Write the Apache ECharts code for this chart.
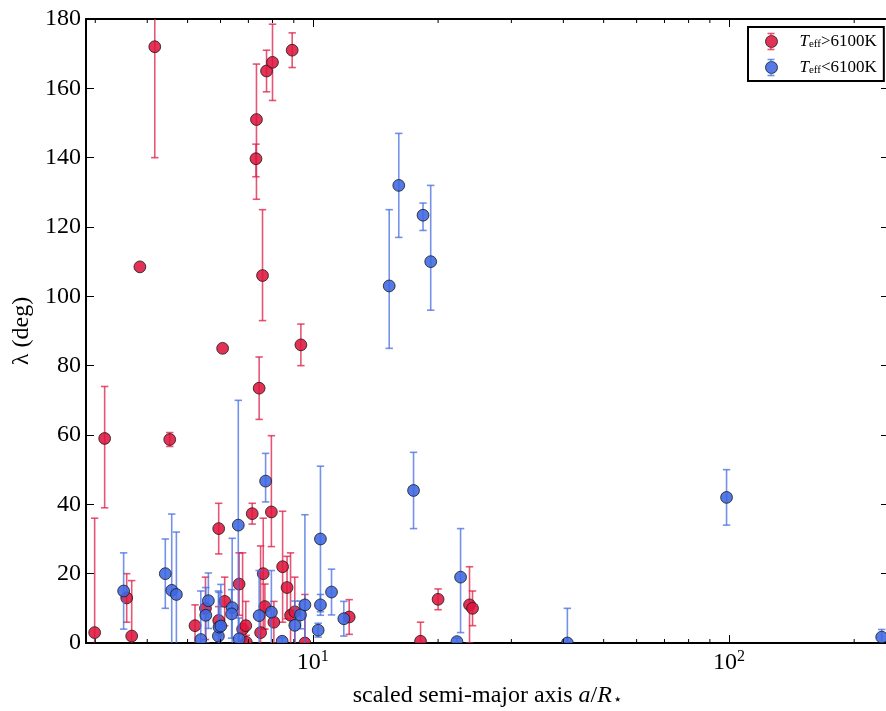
<!DOCTYPE html>
<html><head><meta charset="utf-8">
<script src="https://cdn.jsdelivr.net/npm/echarts@6/dist/echarts.min.js"></script>
<style>html,body{margin:0;padding:0;background:#fff}#c{width:886px;height:711px}</style>
</head><body><div id="c"></div>
<script>
// Teff > 6100K (hot stars)
const hotX = [4.17,7.32,7.30,7.74,8.00,8.92,7.57,6.07,9.36,3.84,3.16,4.53,7.43,2.99,3.57,3.67,5.21,5.52,5.94,5.94,6.14,6.65,6.78,6.90,6.92,7.15,7.49,7.60,7.67,7.95,8.06,8.46,8.67,8.84,9.05,9.57,12.23,20.0,18.15,23.8,24.2];
const hotY = [172,151,139.7,165,167.5,171,106,85,86,108.5,59,58.7,73.5,3,13,2,5,10,33,6.5,12,17,4,5,0.2,37.3,3,20,10.5,37.8,6,22,16,8,9,0,7.5,12.6,0.5,11,10];
const hotErrMinus = [32,23,5.2,6,11,5,13,0,6,0,20,2,9,33,7,16,6,9,7.3,4,7,9,22,7,2,3,25,16,6.5,10,6,16,9,18,10,14,5,3,5.5,11,5];
const hotErrPlus  = [32,16,4.2,6,11,5,19,0,6,0,15,2,9,33,7,16,6,9,7.3,4,7,9,22,7,2,3,25,16,6.5,22,6,16,9,18,10,14,5,3,5.5,11,5];

// Teff < 6100K (cool stars)
const coolX = [3.51,4.42,4.58,4.70,5.38,5.53,5.61,5.93,5.95,6.01,6.40,6.38,6.62,6.65,7.70,7.43,7.95,8.44,9.05,9.34,9.57,10.3,10.43,10.43,11.09,11.87,15.26,16.09,18.4,19.2,17.46,22.65,22.2,40.9,98.7,232.9];
const coolY = [15,20,15.2,14,1,8,12.2,2,4.6,4.9,10.2,8.4,34,1.2,46.7,7.9,8.9,0.5,5.1,8.1,11,3.7,30,11,14.7,7,103,132,123.4,110,44,19,0.4,0,42,1.7];
const coolErrMinus = [11,10,22,18,14,8,8,13,10,12,20,7,36,6,6,13,12,1,7,4,26,2,21,3,6.6,5,18,15,4.4,14,11,16,1,10,8,2.2];
const coolErrPlus  = [11,10,22,18,14,8,8,13,10,12,20,7,36,6,8,13,12,1,7,4,26,2,21,3,6.6,5,22,15,3.5,22,11,14,1,10,8,2.2];

const minorTickValues = [3,4,5,6,7,8,9,20,30,40,50,60,70,80,90,200];
const xMin = 2.85, xMax = 242.5;
const yMin = 0, yMax = 180, yStep = 20;

const HOT_FILL = 'rgba(222,22,62,0.88)';
const HOT_BAR = 'rgba(222,30,70,0.75)';
const COOL_FILL = 'rgba(62,102,225,0.88)';
const COOL_BAR = 'rgba(70,110,225,0.75)';
const EDGE = 'rgba(25,25,25,0.8)';
const FONT = "'Liberation Serif','Times New Roman',serif";

function rows(xs, ys, lo, hi) { return xs.map((x, i) => [x, ys[i], lo[i], hi[i]]); }
const hotData = rows(hotX, hotY, hotErrMinus, hotErrPlus);
const coolData = rows(coolX, coolY, coolErrMinus, coolErrPlus);

function errRender(color) {
  return function (params, api) {
    const x = api.value(0), y = api.value(1), lo = api.value(2), hi = api.value(3);
    if (!lo && !hi) return null;
    const t = api.coord([x, y + hi]), b = api.coord([x, y - lo]);
    const cw = 3.7, st = { stroke: color, lineWidth: 1.6 };
    return { type: 'group', children: [
      { type: 'line', shape: { x1: t[0], y1: t[1], x2: b[0], y2: b[1] }, style: st },
      { type: 'line', shape: { x1: t[0] - cw, y1: t[1], x2: t[0] + cw, y2: t[1] }, style: st },
      { type: 'line', shape: { x1: b[0] - cw, y1: b[1], x2: b[0] + cw, y2: b[1] }, style: st }
    ]};
  };
}
function dotRender(fill) {
  return function (params, api) {
    const p = api.coord([api.value(0), api.value(1)]);
    return { type: 'circle', shape: { cx: p[0], cy: p[1], r: 5.9 }, style: { fill: fill, stroke: EDGE, lineWidth: 1 } };
  };
}
function minorRender(params, api) {
  const v = api.value(0);
  const b = api.coord([v, yMin]), t = api.coord([v, yMax]);
  const st = { stroke: '#000', lineWidth: 1 };
  return { type: 'group', children: [
    { type: 'line', shape: { x1: b[0], y1: b[1], x2: b[0], y2: b[1] - 4 }, style: st },
    { type: 'line', shape: { x1: t[0], y1: t[1], x2: t[0], y2: t[1] + 4 }, style: st }
  ]};
}
// small error-bar glyph behind each legend marker
function legendBar(cx, cy, color) {
  const st = { stroke: color, lineWidth: 1.6 };
  return [
    { type: 'line', z: 100, shape: { x1: cx, y1: cy - 8, x2: cx, y2: cy - 5.5 }, style: st },
    { type: 'line', z: 100, shape: { x1: cx, y1: cy + 5.5, x2: cx, y2: cy + 8 }, style: st },
    { type: 'line', z: 100, shape: { x1: cx - 3.5, y1: cy - 8, x2: cx + 3.5, y2: cy - 8 }, style: st },
    { type: 'line', z: 100, shape: { x1: cx - 3.5, y1: cy + 8, x2: cx + 3.5, y2: cy + 8 }, style: st }
  ];
}

const isPow10 = v => Math.abs(Math.log10(v) - Math.round(Math.log10(v))) < 1e-6;
const axisBase = {
  axisLine: { show: true, onZero: false, lineStyle: { color: '#000', width: 2 } },
  axisTick: { show: true, inside: true, length: 8, lineStyle: { color: '#000', width: 1 } },
  splitLine: { show: false }
};

const chart = echarts.init(document.getElementById('c'));
chart.setOption({
  animation: false,
  backgroundColor: '#fff',
  grid: { left: 86, right: -3, top: 19, bottom: 68, containLabel: false, outerBoundsMode: 'none' },
  xAxis: [
    Object.assign({}, axisBase, {
      type: 'log', logBase: 10, min: xMin, max: xMax, position: 'bottom',
      axisLabel: {
        margin: 6, fontFamily: FONT, color: '#000', showMinLabel: false, showMaxLabel: false,
        formatter: v => isPow10(v) ? '{n|10}{s|' + Math.round(Math.log10(v)) + '}' : '',
        rich: {
          n: { fontSize: 24, fontFamily: FONT, color: '#000', lineHeight: 26, verticalAlign: 'bottom' },
          s: { fontSize: 16, fontFamily: FONT, color: '#000', lineHeight: 26, verticalAlign: 'top' }
        }
      },
      name: '{n|scaled semi-major axis }{i|a}{n|/}{i|R}{st|⋆}',
      nameLocation: 'middle', nameGap: 35,
      nameTextStyle: {
        rich: {
          n: { fontSize: 24, fontFamily: FONT, color: '#000', lineHeight: 30, verticalAlign: 'bottom' },
          i: { fontSize: 24, fontFamily: FONT, fontStyle: 'italic', color: '#000', lineHeight: 30, verticalAlign: 'bottom' },
          st: { fontSize: 15, fontFamily: "'DejaVu Sans',sans-serif", color: '#000', lineHeight: 24, verticalAlign: 'bottom', padding: [0, 0, 0, 1] }
        }
      }
    }),
    Object.assign({}, axisBase, {
      type: 'log', logBase: 10, min: xMin, max: xMax, position: 'top',
      axisLabel: { show: false }
    })
  ],
  yAxis: [
    Object.assign({}, axisBase, {
      type: 'value', min: yMin, max: yMax, interval: yStep, position: 'left',
      axisLabel: { margin: 5, fontSize: 24, fontFamily: FONT, color: '#000' },
      name: 'λ (deg)', nameLocation: 'middle', nameGap: 52,
      nameTextStyle: { fontSize: 24, fontFamily: FONT, color: '#000' }
    }),
    Object.assign({}, axisBase, {
      type: 'value', min: yMin, max: yMax, interval: yStep, position: 'right',
      axisLabel: { show: false }
    })
  ],
  legend: {
    orient: 'vertical', left: 748, top: 27, selectedMode: false,
    padding: [6, 7, 5, 17], itemGap: 9, itemWidth: 12, itemHeight: 12,
    borderColor: '#000', borderWidth: 2, backgroundColor: '#fff',
    data: [
      { name: 'hot', icon: 'circle', itemStyle: { color: HOT_FILL, borderColor: EDGE, borderWidth: 1 } },
      { name: 'cool', icon: 'circle', itemStyle: { color: COOL_FILL, borderColor: EDGE, borderWidth: 1 } }
    ],
    formatter: n => n === 'hot' ? '{i|T}{s|eff}{n|>6100K}' : '{i|T}{s|eff}{n|<6100K}',
    textStyle: {
      rich: {
        i: { fontSize: 17, fontFamily: FONT, fontStyle: 'italic', color: '#000', lineHeight: 17, verticalAlign: 'bottom', padding: [0, 0, 0, 17] },
        s: { fontSize: 11, fontFamily: FONT, color: '#000', lineHeight: 13, verticalAlign: 'bottom' },
        n: { fontSize: 17, fontFamily: FONT, color: '#000', lineHeight: 17, verticalAlign: 'bottom' }
      }
    }
  },
  graphic: legendBar(771, 41.5, HOT_BAR).concat(legendBar(771, 67.5, COOL_BAR)),
  series: [
    { name: 'hot', type: 'custom', clip: true, renderItem: errRender(HOT_BAR), data: hotData, encode: { x: 0, y: 1 }, z: 2 },
    { name: 'hot', type: 'custom', clip: true, renderItem: dotRender(HOT_FILL), data: hotData, encode: { x: 0, y: 1 }, z: 3 },
    { name: 'cool', type: 'custom', clip: true, renderItem: errRender(COOL_BAR), data: coolData, encode: { x: 0, y: 1 }, z: 4 },
    { name: 'cool', type: 'custom', clip: true, renderItem: dotRender(COOL_FILL), data: coolData, encode: { x: 0, y: 1 }, z: 5 },
    { name: 'minorTicks', type: 'custom', renderItem: minorRender, data: minorTickValues.map(v => [v, yMin]), encode: { x: 0, y: 1 }, silent: true, z: 6 }
  ]
});
</script></body></html>
